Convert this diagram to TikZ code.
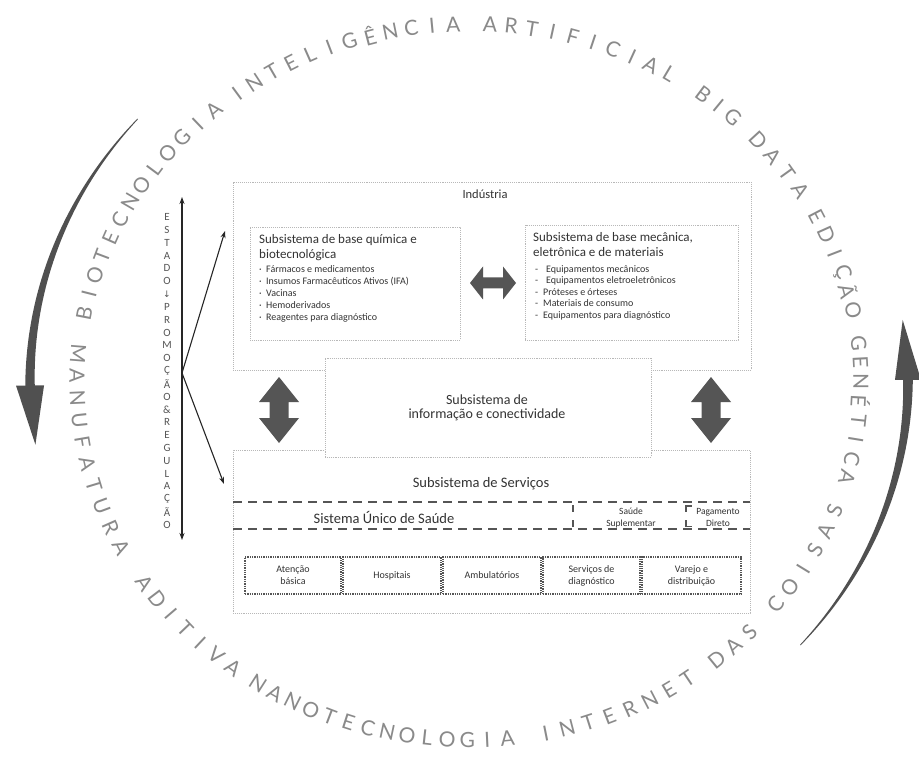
\documentclass[tikz,border=0pt]{standalone}
\usepackage{fontspec}
\setmainfont{Carlito}
\newfontfamily\circfont{Lato}
\newfontfamily\symfont{DejaVu Sans}
\usetikzlibrary{arrows.meta}
\definecolor{txt}{HTML}{333333}
\definecolor{boxc}{HTML}{B8B8B8}
\definecolor{arr}{HTML}{555555}
\definecolor{circc}{HTML}{8A8A8A}
\definecolor{arcc}{HTML}{505050}
\tikzset{
  dotbox/.style={draw=boxc, densely dotted, line width=0.9pt},
  cellbox/.style={draw=arr, densely dotted, line width=1.3pt, align=center, font=\fontsize{10}{12}\selectfont, text=txt, inner sep=0pt},
  susline/.style={draw=arr, line width=2.2pt, dash pattern=on 9pt off 6pt},
  circtxt/.style={font=\circfont\fontsize{21}{21}\selectfont, text=circc, inner sep=0pt},
  vtxt/.style={font=\fontsize{11}{11}\selectfont, text=arr, inner sep=0pt},
  ttl/.style={font=\fontsize{13}{13}\selectfont, text=txt, inner sep=0pt, anchor=base west},
  itm/.style={font=\fontsize{10}{10}\selectfont, text=txt, inner sep=0pt, anchor=base west},
  ctr/.style={font=\fontsize{14}{14}\selectfont, text=txt, inner sep=0pt, anchor=base},
  sml/.style={font=\fontsize{9.5}{9.5}\selectfont, text=txt, inner sep=0pt, anchor=base},
  blockarr/.style={fill=arr},
  thinarr/.style={draw=black!85, line width=1.1pt},
}
\newcommand\topword[4]{%
  \foreach \ch [count=\i from 0] in {#4} {
    \pgfmathsetmacro\ang{#2-\i*#3}
    \node[circtxt, rotate=\ang-90] (#1-\i) at ({469+392*cos(\ang)},{382-358*sin(\ang)}) {\ch};
  }}
\newcommand\botword[4]{%
  \foreach \ch [count=\i from 0] in {#4} {
    \pgfmathsetmacro\ang{#2+\i*#3}
    \node[circtxt, rotate=\ang+90] (#1-\i) at ({469+392*cos(\ang)},{382-358*sin(\ang)}) {\ch};
  }}
\begin{document}
\begin{tikzpicture}[x=1pt, y=-1pt]
\fill[white] (0,0) rectangle (919,762);
\useasboundingbox (0,0) rectangle (919,762);

% ---- circular text ----
\topword{wa}{169}{3.2}{B,I,O,T,E,C,N,O,L,O,G,I,A}
\topword{wb}{126.3}{3.09}{I,N,T,E,L,I,G,Ê,N,C,I,A}
\topword{wc}{86.9}{3.07}{A,R,T,I,F,I,C,I,A,L}
\topword{wd}{53.3}{2.8}{B,I,G}
\topword{we}{42.5}{3.4}{D,A,T,A}
\topword{wf}{27.5}{3.2}{E,D,I,Ç,Ã,O}
\topword{wg}{6.2}{3.09}{G,E,N,É,T,I,C,A}
\botword{wh}{175.5}{3.55}{M,A,N,U,F,A,T,U,R,A}
\botword{wi}{214.2}{3.13}{A,D,I,T,I,V,A}
\botword{wj}{237.4}{2.94}{N,A,N,O,T,E,C,N,O,L,O,G,I,A}
\botword{wk}{281.3}{3.23}{I,N,T,E,R,N,E,T}
\botword{wl}{309.2}{3.25}{D,A,S}
\botword{wm}{321.6}{3.46}{C,O,I,S,A,S}

% ---- big curved arrows ----
\fill[arcc] plot[domain=139:181,samples=60] ({469+(439+(0.4+4.4*(\x-139)/42))*cos(\x)},{382-(401+(0.4+4.4*(\x-139)/42))*sin(\x)})
  -- plot[domain=181:139,samples=60] ({469+(439-(0.4+4.4*(\x-139)/42))*cos(\x)},{382-(401-(0.4+4.4*(\x-139)/42))*sin(\x)}) -- cycle;
\fill[arcc] ({469+425*cos(180.5)},{382-387*sin(180.5)}) -- ({469+453*cos(180.5)},{382-415*sin(180.5)}) -- ({469+439*cos(189)},{382-401*sin(189)}) -- cycle;
\fill[arcc] plot[domain=-41:0.5,samples=60] ({469+(439+(0.4+4.4*(\x+41)/41))*cos(\x)},{382-(401+(0.4+4.4*(\x+41)/41))*sin(\x)})
  -- plot[domain=0.5:-41,samples=60] ({469+(439-(0.4+4.4*(\x+41)/41))*cos(\x)},{382-(401-(0.4+4.4*(\x+41)/41))*sin(\x)}) -- cycle;
\fill[arcc] ({469+426*cos(0.3)},{382-388*sin(0.3)}) -- ({469+452*cos(0.3)},{382-414*sin(0.3)}) -- ({469+439*cos(8.9)},{382-401*sin(8.9)}) -- cycle;

% ---- main boxes ----
\node[dotbox, minimum width=518pt, minimum height=188pt, inner sep=0pt] (indbox) at (492,276) {};
\node[dotbox, minimum width=517pt, minimum height=163pt, inner sep=0pt] (servbox) at (491.5,531.5) {};
\node[dotbox, fill=white, minimum width=326pt, minimum height=99pt, inner sep=0pt] (infobox) at (488,407.5) {};
\node[font=\fontsize{12.5}{12.5}\selectfont, text=txt, anchor=base, inner sep=0pt] (indlbl) at (485,199) {Indústria};

% left sub box
\node[dotbox, minimum width=210pt, minimum height=113pt, inner sep=0pt] (lsub) at (355,283.5) {};
\node[ttl] (lt1) at (259,244) {Subsistema de base química e};
\node[ttl] (lt2) at (259,259) {biotecnológica};
\foreach \t [count=\i from 0] in {Fármacos e medicamentos, Insumos Farmacêuticos Ativos (IFA), Vacinas, Hemoderivados, Reagentes para diagnóstico} {
  \node[itm] (lb\i) at (259,{272.5+12*\i}) {·};
  \node[itm] (li\i) at (266,{272.5+12*\i}) {\t};
}
% right sub box
\node[dotbox, minimum width=213pt, minimum height=115pt, inner sep=0pt] (rsub) at (631.5,282.5) {};
\node[ttl] (rt1) at (533,242) {Subsistema de base mecânica,};
\node[ttl] (rt2) at (533,257) {eletrônica e de materiais};
\foreach \t/\xx [count=\i from 0] in {Equipamentos mecânicos/546, Equipamentos eletroeletrônicos/546, Próteses e órteses/543, Materiais de consumo/543, Equipamentos para diagnóstico/543} {
  \node[itm] (rb\i) at (535,{272.5+11.5*\i}) {-};
  \node[itm] (ri\i) at (\xx,{272.5+11.5*\i}) {\t};
}

% block arrows
\fill[blockarr] (470,283) -- (483,266.5) -- (483,277.5) -- (503,277.5) -- (503,266.5) -- (516,283) -- (503,299.5) -- (503,288.5) -- (483,288.5) -- (483,299.5) -- cycle;
\foreach \X in {279,711} {
  \fill[blockarr] (\X,377) -- (\X+20,402) -- (\X+9.5,402) -- (\X+9.5,418) -- (\X+20,418) -- (\X,443) -- (\X-20,418) -- (\X-9.5,418) -- (\X-9.5,402) -- (\X-20,402) -- cycle;
}

% info text
\node[ctr] (inf1) at (487,404) {Subsistema de};
\node[ctr] (inf2) at (487,418) {informação e conectividade};

% services
\node[ctr, font=\fontsize{14.5}{14.5}\selectfont] (servlbl) at (481,487) {Subsistema de Serviços};
\draw[susline] (233,502) -- (750,502);
\draw[susline] (233,529) -- (750,529);
\draw[draw=arr, line width=1.8pt, dash pattern=on 7pt off 8pt] (573,505) -- (573,527);
\draw[draw=arr, line width=1.8pt, dash pattern=on 7pt off 8pt] (686,505) -- (686,527);
\draw[draw=arr, line width=1.8pt] (686,506) -- (692,506);
\draw[draw=arr, line width=1.8pt] (686,526.5) -- (692,526.5);
\node[ctr, font=\fontsize{14.5}{14.5}\selectfont] (sus) at (384,523.5) {Sistema Único de Saúde};
\node[sml] (ss1) at (631,514.5) {Saúde};
\node[sml] (ss2) at (631,526) {Suplementar};
\node[sml] (pd1) at (718,514.5) {Pagamento};
\node[sml] (pd2) at (718,526) {Direto};

% cells
\node[cellbox, minimum width=96pt, minimum height=37pt] (c1) at (293,575.5) {Atenção\\básica};
\node[cellbox, minimum width=98pt, minimum height=37pt] (c2) at (392,575.5) {Hospitais};
\node[cellbox, minimum width=98pt, minimum height=37pt] (c3) at (492,575.5) {Ambulatórios};
\node[cellbox, minimum width=97pt, minimum height=37pt] (c4) at (591.5,575.5) {Serviços de\\diagnóstico};
\node[cellbox, minimum width=99pt, minimum height=37pt] (c5) at (691.5,575.5) {Varejo e\\distribuição};

% ---- Estado arrow ----
\coordinate (vtop) at (182,197);
\coordinate (vbot) at (182,540);
\coordinate (vmid) at (182,373);
\coordinate (dtop) at (225,231);
\coordinate (dbot) at (224,484);
\draw[thinarr, {Stealth[length=7pt,width=5pt]}-{Stealth[length=7pt,width=5pt]}] (vtop) -- (vbot);
\draw[thinarr, -{Stealth[length=7pt,width=5pt]}] (vmid) -- (dtop);
\draw[thinarr, -{Stealth[length=7pt,width=5pt]}] (vmid) -- (dbot);
\foreach \ch [count=\i from 0] in {E,S,T,A,D,O,{\symfont\fontsize{9}{9}\selectfont ↓},P,R,O,M,O,Ç,Ã,O,\&,R,E,G,U,L,A,Ç,Ã,O} {
  \node[vtxt] (ve\i) at (167,{217+12.83*\i}) {\ch};
}
\end{tikzpicture}
\end{document}
